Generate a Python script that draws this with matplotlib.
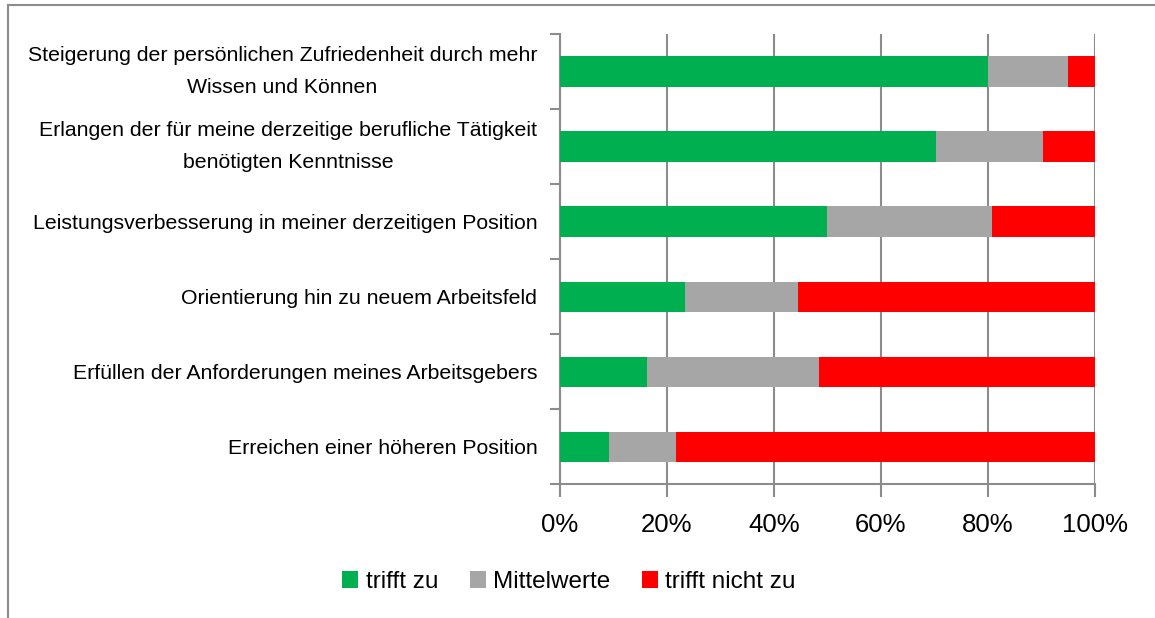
import numpy as np
import matplotlib.pyplot as plt
from matplotlib.lines import Line2D

plt.rcParams['font.family'] = ['Liberation Sans', 'DejaVu Sans']

# Zustimmung je Aussage (Anteile in %), von oben nach unten
categories = [
    'Steigerung der persönlichen Zufriedenheit durch mehr\nWissen und Können',
    'Erlangen der für meine derzeitige berufliche Tätigkeit\nbenötigten Kenntnisse',
    'Leistungsverbesserung in meiner derzeitigen Position',
    'Orientierung hin zu neuem Arbeitsfeld',
    'Erfüllen der Anforderungen meines Arbeitsgebers',
    'Erreichen einer höheren Position',
]
trifft_zu = [80.0, 70.3, 50.0, 23.4, 16.4, 9.2]
mittelwerte = [14.9, 20.0, 30.8, 21.1, 32.1, 12.5]
trifft_nicht_zu = [5.1, 9.7, 19.2, 55.5, 51.5, 78.3]

series = ['trifft zu', 'Mittelwerte', 'trifft nicht zu']
colors = ['#00B050', '#A6A6A6', '#FF0000']
axis_grey = '#8C8C8C'

fig = plt.figure(figsize=(11.55, 6.18), dpi=100)
ax = fig.add_axes([559.5 / 1155, 1 - 484 / 618, (1095 - 559.5) / 1155, (484 - 34) / 618])

n = len(categories)
ypos = np.arange(n)[::-1] + 0.5   # first category on top
left = np.zeros(n)
for vals, name, col in zip([trifft_zu, mittelwerte, trifft_nicht_zu], series, colors):
    ax.barh(ypos, vals, left=left, height=0.4, color=col, label=name, zorder=3)
    left += np.array(vals)

ax.set_xlim(0, 100)
ax.set_ylim(0, n)

# x axis: percent ticks with vertical gridlines
ax.set_xticks(np.arange(0, 101, 20))
ax.set_xticklabels([f'{v}%' for v in range(0, 101, 20)], fontsize=18.5)
ax.xaxis.grid(True, color=axis_grey, linewidth=1.5, zorder=0)
ax.tick_params(axis='x', length=9, width=1.5, color=axis_grey, pad=12)

# y axis: ticks at category borders, labels between them
ax.set_yticks(np.arange(0, n + 1))
ax.set_yticklabels([])
ax.set_yticks(ypos, minor=True)
ax.set_yticklabels(categories, minor=True, fontsize=15.3, linespacing=1.88,
                   multialignment='center')
for lbl in ax.get_yticklabels(minor=True):
    if '\n' in lbl.get_text():
        lbl.set_va('center')
ax.tick_params(axis='y', which='major', length=7, width=1.5, color=axis_grey)
ax.tick_params(axis='y', which='minor', length=0, pad=16)

for side in ['top', 'right']:
    ax.spines[side].set_visible(False)
for side in ['left', 'bottom']:
    ax.spines[side].set_color(axis_grey)
    ax.spines[side].set_linewidth(1.5)

# chart frame (cropped at right and bottom)
fig.add_artist(Line2D([8 / 1155, 8 / 1155], [0, 1 - 5 / 618], color=axis_grey, linewidth=1.5))
fig.add_artist(Line2D([8 / 1155, 1], [1 - 5 / 618, 1 - 5 / 618], color=axis_grey, linewidth=1.5))

fig.legend(loc='center', bbox_to_anchor=(569 / 1155, 1 - 582 / 618), ncol=3,
           frameon=False, fontsize=17.5, handlelength=0.66, handleheight=0.72,
           handletextpad=0.3, columnspacing=1.3)

fig.savefig('out.png', dpi=100)
